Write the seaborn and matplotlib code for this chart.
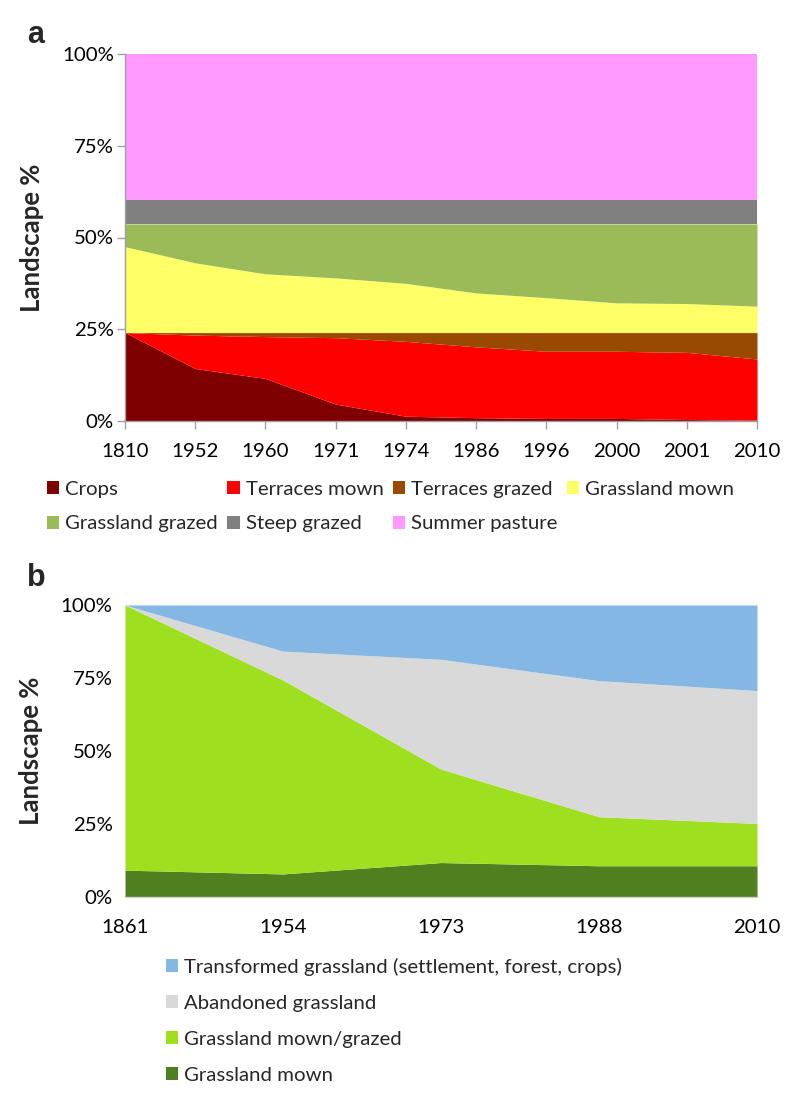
import matplotlib
matplotlib.use("Agg")
import matplotlib.pyplot as plt
import seaborn as sns
import numpy as np
from matplotlib.patches import Patch

sns.set_theme(style="white")
plt.rcParams['font.family'] = ['Lato', 'DejaVu Sans']

# ---------------- Panel a data ----------------
years_a = ["1810", "1952", "1960", "1971", "1974", "1986", "1996", "2000", "2001", "2010"]
crops            = [24.1, 14.3, 11.6, 4.6, 1.3, 0.9, 0.7, 0.7, 0.4, 0.2]
terraces_mown    = [0.0, 9.1, 11.4, 18.1, 20.4, 19.3, 18.3, 18.3, 18.3, 16.7]
terraces_grazed  = [0.0, 0.7, 1.1, 1.4, 2.4, 3.9, 5.1, 5.1, 5.4, 7.2]
grassland_mown_a = [23.4, 19.0, 16.0, 14.9, 13.4, 10.8, 9.5, 8.1, 7.9, 7.2]
grassland_grazed = [6.2, 10.6, 13.6, 14.7, 16.2, 18.8, 20.1, 21.5, 21.7, 22.4]
steep_grazed     = [6.6, 6.6, 6.6, 6.6, 6.6, 6.6, 6.6, 6.6, 6.6, 6.6]
summer_pasture   = [39.7, 39.7, 39.7, 39.7, 39.7, 39.7, 39.7, 39.7, 39.7, 39.7]
labels_a = ["Crops", "Terraces mown", "Terraces grazed", "Grassland mown",
            "Grassland grazed", "Steep grazed", "Summer pasture"]
colors_a = ["#7F0000", "#FF0000", "#994A00", "#FFFF66", "#9BBB59", "#808080", "#FF99FF"]

# ---------------- Panel b data ----------------
years_b = ["1861", "1954", "1973", "1988", "2010"]
grassland_mown_b   = [9.2, 7.9, 11.8, 10.7, 10.7]
grassland_mown_grz = [90.8, 66.4, 32.0, 16.8, 14.5]
abandoned          = [0.0, 9.9, 37.6, 46.6, 45.5]
transformed        = [0.0, 15.8, 18.6, 25.9, 29.3]
labels_b = ["Grassland mown", "Grassland mown/grazed", "Abandoned grassland",
            "Transformed grassland (settlement, forest, crops)"]
colors_b = ["#4F801F", "#9EE01F", "#D9D9D9", "#85B7E5"]

FS = 14.7
YL = 18.5
W, H = 800, 1104
fig = plt.figure(figsize=(W / 100, H / 100), dpi=100)

def fx(px):
    return px / W

def fy(py):
    return 1 - py / H

# ---- Panel a ----
ax1 = fig.add_axes([fx(125), fy(421), fx(757) - fx(125), fy(54) - fy(421)])
xa = np.arange(len(years_a))
series_a = [crops, terraces_mown, terraces_grazed, grassland_mown_a,
            grassland_grazed, steep_grazed, summer_pasture]
ax1.stackplot(xa, *series_a, colors=colors_a, linewidth=0)
ax1.set_xlim(0, len(years_a) - 1)
ax1.set_ylim(0, 100)
ax1.set_xticks(xa)
ax1.set_xticklabels(years_a)
ax1.set_yticks([0, 25, 50, 75, 100])
ax1.set_yticklabels(["0%", "25%", "50%", "75%", "100%"])
ax1.tick_params(axis='both', labelsize=FS, colors='#A0A0A0', labelcolor='black',
                length=6, width=1, direction='out', pad=2)
ax1.tick_params(axis='x', bottom=True, pad=9.5)
ax1.tick_params(axis='y', left=True)
for s in ['top', 'right']:
    ax1.spines[s].set_visible(False)
for s in ['left', 'bottom']:
    ax1.spines[s].set_color('#A0A0A0')
    ax1.spines[s].set_linewidth(1)
ax1.set_ylabel("Landscape %", fontsize=YL, fontweight='bold', labelpad=13)

handles_a = [Patch(facecolor=c, edgecolor='none') for c in colors_a]
order = [0, 4, 1, 5, 2, 6, 3]
fig.legend([handles_a[i] for i in order], [labels_a[i] for i in order],
           loc='upper left', bbox_to_anchor=(fx(47), fy(481)), ncol=4,
           frameon=False, fontsize=FS, handlelength=0.6, handleheight=0.6,
           handletextpad=0.3, columnspacing=0.45, labelspacing=0.85, borderpad=0,
           borderaxespad=0)

fig.text(fx(27), fy(35), "a", fontsize=22, fontweight='bold',
         family=['Liberation Sans', 'DejaVu Sans'], va='center', ha='left')

# ---- Panel b ----
ax2 = fig.add_axes([fx(125), fy(897), fx(757) - fx(125), fy(605) - fy(897)])
xb = np.arange(len(years_b))
series_b = [grassland_mown_b, grassland_mown_grz, abandoned, transformed]
ax2.stackplot(xb, *series_b, colors=colors_b, linewidth=0)
ax2.set_xlim(0, len(years_b) - 1)
ax2.set_ylim(0, 100)
ax2.set_xticks(xb)
ax2.set_xticklabels(years_b)
ax2.set_yticks([0, 25, 50, 75, 100])
ax2.set_yticklabels(["0%", "25%", "50%", "75%", "100%"])
ax2.tick_params(axis='both', labelsize=FS, length=0, labelcolor='black')
ax2.tick_params(axis='y', pad=9)
ax2.tick_params(axis='x', pad=15.5)
for s in ['top', 'right', 'left']:
    ax2.spines[s].set_visible(False)
ax2.spines['bottom'].set_color('#D0D0D0')
ax2.spines['bottom'].set_linewidth(1)
ax2.set_ylabel("Landscape %", fontsize=YL, fontweight='bold', labelpad=13)

handles_b = [Patch(facecolor=c, edgecolor='none') for c in colors_b]
fig.legend(handles_b[::-1], labels_b[::-1],
           loc='upper left', bbox_to_anchor=(fx(166), fy(958)), ncol=1,
           frameon=False, fontsize=FS, handlelength=0.6, handleheight=0.6,
           handletextpad=0.3, labelspacing=0.93, borderpad=0, borderaxespad=0)

fig.text(fx(27), fy(578), "b", fontsize=22, fontweight='bold',
         family=['Liberation Sans', 'DejaVu Sans'], va='center', ha='left')

fig.savefig("out.png", dpi=100)
